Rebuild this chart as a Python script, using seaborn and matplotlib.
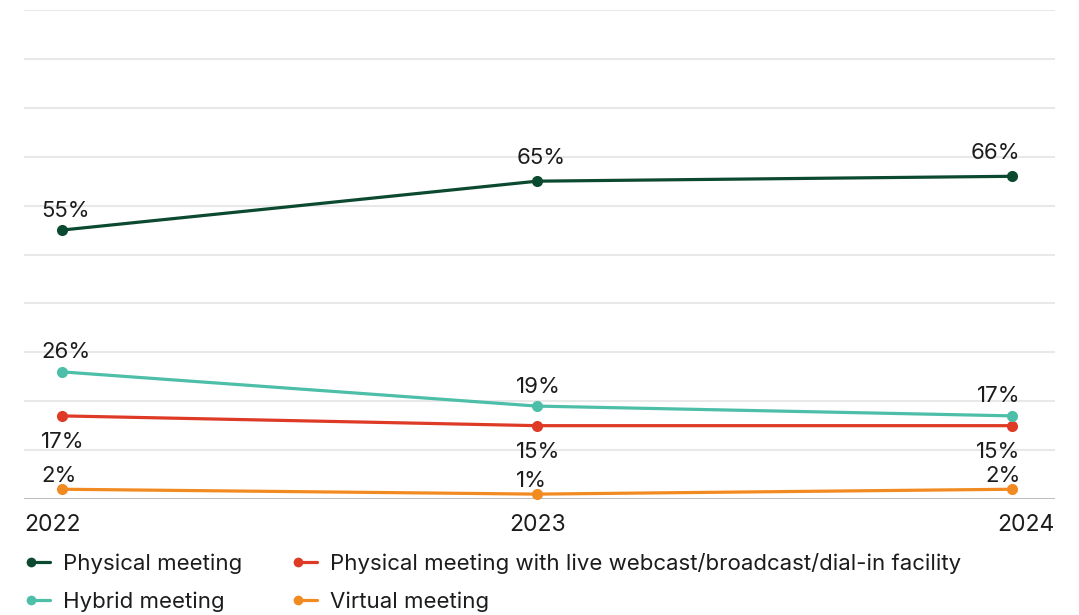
import matplotlib
matplotlib.use("Agg")
import matplotlib.pyplot as plt
from matplotlib.lines import Line2D
from matplotlib.legend_handler import HandlerLine2D
import seaborn as sns
import pandas as pd

# Share of meetings by format, 2022-2024 (%)
years = [2022, 2023, 2024]
series_names = [
    "Physical meeting",
    "Physical meeting with live webcast/broadcast/dial-in facility",
    "Hybrid meeting",
    "Virtual meeting",
]
physical = [55, 65, 66]
physical_webcast = [17, 15, 15]
hybrid = [26, 19, 17]
virtual = [2, 1, 2]

colors = {
    "Physical meeting": "#0b4a30",
    "Physical meeting with live webcast/broadcast/dial-in facility": "#de3a26",
    "Hybrid meeting": "#4dbfa9",
    "Virtual meeting": "#f28a22",
}

values = [physical, physical_webcast, hybrid, virtual]
df = pd.DataFrame(
    [(name, y, v) for name, vals in zip(series_names, values) for y, v in zip(years, vals)],
    columns=["series", "year", "value"],
)

sns.set_theme(style="white")
plt.rcParams["font.family"] = ["Inter", "DejaVu Sans"]
text_color = "#1c1c1c"

fig = plt.figure(figsize=(10.79, 6.15), dpi=100)
ax = fig.add_axes([0.0222, 0.1886, 0.9556, 0.7951])

sns.lineplot(
    data=df, x="year", y="value", hue="series", hue_order=series_names,
    palette=colors, marker="o", markersize=8, markeredgewidth=0,
    linewidth=2.3, legend=False, sort=False, ax=ax, zorder=3,
)

ax.set_ylim(0, 100)
ax.set_xlim(2021.92, 2024.09)
ax.set_yticks(range(0, 101, 10))
ax.set_yticklabels([])
ax.yaxis.grid(True, color="#e8e8e8", linewidth=1.5)
ax.xaxis.grid(False)
ax.axhline(0, color="#b0b0b0", linewidth=1.8, zorder=2)
for side in ["top", "right", "left", "bottom"]:
    ax.spines[side].set_visible(False)
ax.tick_params(axis="both", length=0)
ax.set_xlabel("")
ax.set_ylabel("")

# Year labels: first and last flush with the plot edges
xmin, xmax = ax.get_xlim()
ax.set_xticks([xmin, years[1], xmax])
ax.set_xticklabels([str(y) for y in years], fontsize=16.5, color=text_color)
for lbl, ha in zip(ax.get_xticklabels(), ["left", "center", "right"]):
    lbl.set_ha(ha)
ax.tick_params(axis="x", pad=11)

# Value labels: vertical offset (points) per series
label_dy = {
    "Physical meeting": 14,
    "Physical meeting with live webcast/broadcast/dial-in facility": -19,
    "Hybrid meeting": 14,
    "Virtual meeting": 9.5,
}
for name, vals in zip(series_names, values):
    for i, (yr, v) in enumerate(zip(years, vals)):
        if i < 2:
            ha, dx = "left", -15
        else:
            ha, dx = "right", 6
        dy = label_dy[name]
        if name == "Physical meeting" and i > 0:
            dy = 17
        ax.annotate(f"{v}%", (yr, v), xytext=(dx, dy), textcoords="offset points",
                    ha=ha, va="center", fontsize=16, color=text_color)


class StartMarkerHandler(HandlerLine2D):
    """Legend line with a single marker at its left end."""

    def create_artists(self, legend, orig_handle, xdescent, ydescent,
                       width, height, fontsize, trans):
        artists = super().create_artists(legend, orig_handle, xdescent, ydescent,
                                         width, height, fontsize, trans)
        for a in artists:
            a.set_markevery([0])
        return artists


handles = [
    Line2D([], [], color=colors[n], marker="o", markersize=7, markeredgewidth=0,
           linewidth=2.3)
    for n in series_names
]
order = [0, 2, 1, 3]
fig.legend(
    [handles[i] for i in order], [series_names[i] for i in order],
    loc="upper left", bbox_to_anchor=(0.023, 0.101),
    bbox_transform=fig.transFigure, ncol=2, frameon=False, numpoints=2,
    handler_map={Line2D: StartMarkerHandler(numpoints=2)},
    handlelength=1.45, handletextpad=0.28, columnspacing=2.2, labelspacing=0.8,
    borderpad=0, borderaxespad=0,
    fontsize=16, labelcolor=text_color,
)

fig.savefig("out.png", dpi=100, facecolor="white")
